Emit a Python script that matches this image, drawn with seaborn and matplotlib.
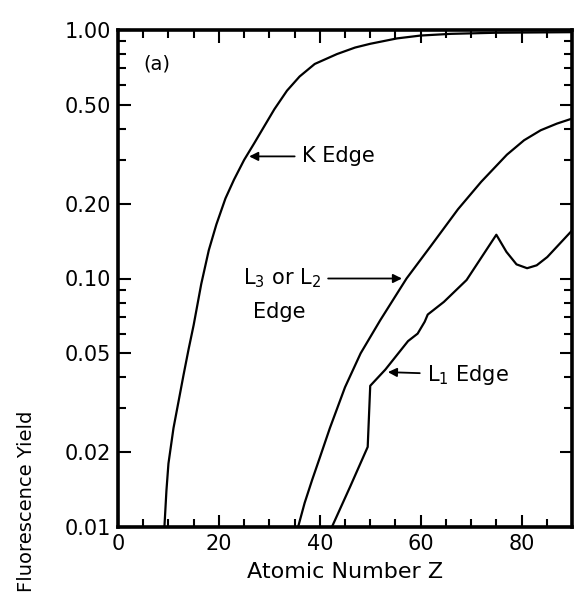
import numpy as np
import pandas as pd
import seaborn as sns
import matplotlib.pyplot as plt
from matplotlib.ticker import NullFormatter

# values (Z, fluorescence yield)
k_z = [9.2, 9.6, 10, 11, 12, 13, 14, 15, 16.5, 18, 19.5, 21.3, 23, 25, 27, 29, 31, 33.5, 36, 39, 43.4, 47, 50, 55.3, 60, 66, 75, 90]
k_y = [0.01, 0.014, 0.018, 0.025, 0.032, 0.041, 0.052, 0.065, 0.095, 0.13, 0.165, 0.21, 0.25, 0.3, 0.35, 0.41, 0.48, 0.57, 0.65, 0.73, 0.8, 0.85, 0.88, 0.925, 0.95, 0.965, 0.975, 0.98]

l3_z = [35.7, 37, 38.5, 40, 42, 45, 48.1, 52, 57.2, 62, 67.4, 72, 77.1, 80.5, 83.8, 87, 90]
l3_y = [0.01, 0.0125, 0.0155, 0.019, 0.025, 0.0365, 0.05, 0.068, 0.10, 0.135, 0.19, 0.245, 0.315, 0.36, 0.395, 0.42, 0.44]

l1_z = [42.4, 46, 49.5, 50.0, 53, 57.5, 59.4, 60.8, 61.4, 64.6, 69.1, 75, 77, 79, 81.1, 83, 85.1, 90]
l1_y = [0.01, 0.0145, 0.021, 0.037, 0.043, 0.056, 0.060, 0.067, 0.0716, 0.0805, 0.0986, 0.150, 0.128, 0.114, 0.110, 0.113, 0.122, 0.156]

x_major = [0, 20, 40, 60, 80]
x_minor = [5, 10, 15, 25, 30, 35, 45, 50, 55, 65, 70, 75, 85]
y_major = [0.01, 0.02, 0.05, 0.10, 0.20, 0.50, 1.00]
y_labels = ["0.01", "0.02", "0.05", "0.10", "0.20", "0.50", "1.00"]
y_minor = [0.03, 0.04, 0.06, 0.07, 0.08, 0.09, 0.3, 0.4, 0.6, 0.7, 0.8, 0.9]

sns.set_style("ticks")
plt.rcParams['font.family'] = ['DejaVu Sans']
plt.rcParams['text.color'] = 'black'
plt.rcParams['axes.labelcolor'] = 'black'

fig = plt.figure(figsize=(5.79, 5.96), dpi=100)
ax = fig.add_axes([118 / 579, 1 - 527 / 596, (572 - 118) / 579, (527 - 30) / 596])

for zs, ys in [(k_z, k_y), (l3_z, l3_y), (l1_z, l1_y)]:
    df = pd.DataFrame({'Z': zs, 'yield': ys})
    sns.lineplot(ax=ax, data=df, x='Z', y='yield', color='black', linewidth=1.6, sort=True)

ax.set_yscale('log')
ax.set_xlim(0, 90)
ax.set_ylim(0.01, 1.0)
ax.set_xticks(x_major)
ax.set_xticks(x_minor, minor=True)
ax.set_yticks(y_major, y_labels)
ax.set_yticks(y_minor, minor=True)
ax.yaxis.set_minor_formatter(NullFormatter())

ax.tick_params(which='both', direction='in', top=True, right=True, colors='black', width=1.5)
ax.tick_params(which='major', length=9, labelsize=15, pad=5)
ax.tick_params(which='minor', length=6)
for s in ax.spines.values():
    s.set_linewidth(2.6)
    s.set_color('black')

ax.set_xlabel("Atomic Number Z", fontsize=16, labelpad=6)
ax.set_ylabel("")
# the scan cuts this label off at the bottom; keep it whole, just inside the edge
fig.text(0.046, 0.006, "Fluorescence Yield", rotation=90, ha='center', va='bottom', fontsize=14)

arrow = dict(arrowstyle='-|>', color='black', lw=1.3, shrinkA=3, shrinkB=0, mutation_scale=13)
ax.text(5, 0.73, "(a)", fontsize=14, ha='left', va='center')
ax.annotate("K Edge", xy=(26, 0.31), xytext=(36.5, 0.31), fontsize=15, ha='left', va='center', arrowprops=arrow)
ax.annotate("L$_3$ or L$_2$", xy=(56.3, 0.10), xytext=(24.7, 0.10), fontsize=15, ha='left', va='center', arrowprops=arrow)
ax.text(31.9, 0.073, "Edge", fontsize=15, ha='center', va='center')
ax.annotate("L$_1$ Edge", xy=(53.5, 0.042), xytext=(61.3, 0.041), fontsize=15, ha='left', va='center', arrowprops=arrow)

plt.savefig("out.png", dpi=100)
